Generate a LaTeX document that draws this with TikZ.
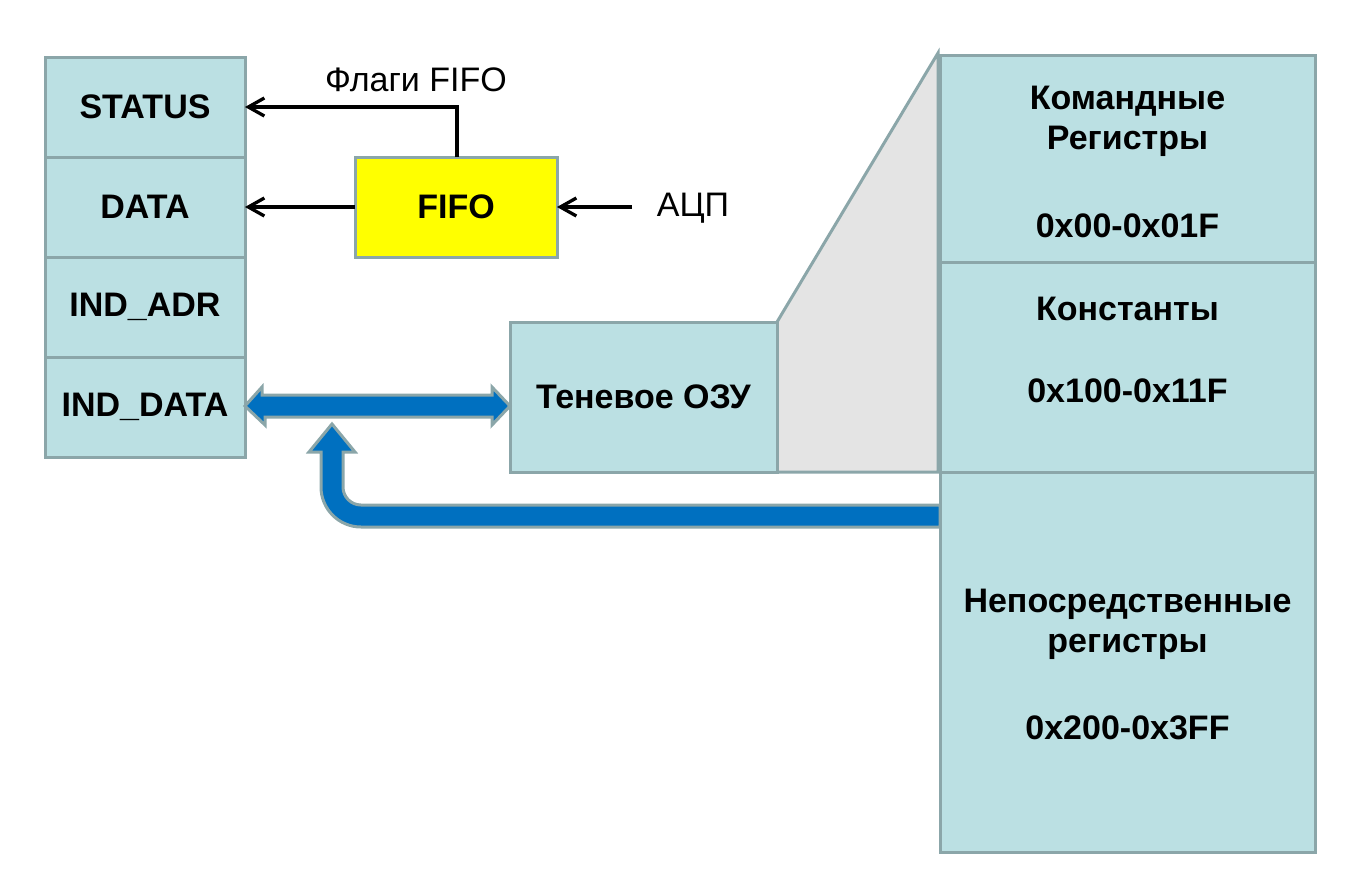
\documentclass[tikz,border=0pt]{standalone}
\usepackage{fontspec}
\setmainfont{Liberation Sans}
\usetikzlibrary{arrows.meta}
\definecolor{boxfill}{HTML}{BBE0E3}
\definecolor{boxline}{HTML}{8BA6A9}
\definecolor{bluearrow}{HTML}{0070C0}
\definecolor{greyfill}{HTML}{E4E4E4}
\definecolor{fifofill}{HTML}{FFFF00}
\tikzset{
  regbox/.style={draw=boxline, fill=boxfill, line width=1.5pt, inner sep=0pt, outer sep=0pt,
    font=\fontsize{17}{20}\selectfont\bfseries},
  fifobox/.style={regbox, fill=fifofill},
  boxtext/.style={font=\fontsize{17}{20}\selectfont\bfseries, inner sep=0pt, align=center},
  plaintext/.style={font=\fontsize{17}{20}\selectfont, inner sep=0pt},
  thinarrow/.style={line width=1.65pt, -{Straight Barb[length=8pt,width=9pt,line width=1.65pt]}},
  fatarrow/.style={draw=boxline, fill=bluearrow, line width=1.5pt, line join=miter},
}
\begin{document}
\begin{tikzpicture}[x=0.5pt,y=-0.5pt]
\useasboundingbox (0,0) rectangle (1362,885);
% grey projection
\filldraw[draw=boxline, fill=greyfill, line width=1.5pt] (777,322) -- (938,53) -- (938,472) -- (777,472) -- cycle;
% left register column
\node[regbox, minimum width=100pt, minimum height=50pt] (status) at (145,107) {STATUS};
\node[regbox, minimum width=100pt, minimum height=50pt] (data) at (145,207) {DATA};
\node[regbox, minimum width=100pt, minimum height=50pt] (indadr) at (145,307) {IND\_ADR};
\node[regbox, minimum width=100pt, minimum height=50pt] (inddata) at (145,407) {IND\_DATA};
% FIFO
\node[fifobox, minimum width=101pt, minimum height=50pt] (fifo) at (456,207) {FIFO};
\node[plaintext] (adc) at (693,208) {АЦП};
\node[plaintext] (flags) at (416,80) {Флаги FIFO};
\coordinate (flagcorner) at (457,107);
\coordinate (adcstart) at (632,207);
\draw[thinarrow] (fifo.north -| flagcorner) -- (flagcorner) -- (flagcorner -| status.east);
\draw[thinarrow] (fifo.west) -- (data.east);
\draw[thinarrow] (adcstart) -- (fifo.east);
% shadow RAM
\node[regbox, minimum width=133.5pt, minimum height=75pt] (shadow) at (643.5,397) {Теневое ОЗУ};
% right column
\node[regbox, minimum width=187.5pt, minimum height=103.5pt] (cmd) at (1127.5,158.5) {};
\node[regbox, minimum width=187.5pt, minimum height=105pt] (const) at (1127.5,367) {};
\node[regbox, minimum width=187.5pt, minimum height=190pt] (direct) at (1127.5,662) {};
\node[boxtext] (cmdtxt) at (1127.5,121) {Командные\\Регистры};
\node[boxtext] (cmdadr) at (1127.5,226) {0x00-0x01F};
\node[boxtext] (consttxt) at (1127.5,309) {Константы};
\node[boxtext] (constadr) at (1127.5,391) {0x100-0x11F};
\node[boxtext] (directtxt) at (1127.5,624) {Непосредственные\\регистры};
\node[boxtext] (directadr) at (1127.5,728) {0x200-0x3FF};
% double arrow between IND_DATA and shadow RAM
\filldraw[fatarrow] (inddata.east |- 0,406) -- ++(17,-19) -- ++(0,8) -- (492,395) -- (492,387) -- (shadow.west |- 0,406)
  -- (492,425) -- (492,417) -- (265,417) -- (265,425) -- cycle;
% bent arrow from direct registers
\filldraw[fatarrow] (direct.west |- 0,505) -- (361,505)
  .. controls (351.06,505) and (343,496.94) .. (343,487)
  -- (343,452) -- (355,452) -- (332,424) -- (309,452) -- (321,452) -- (321,487)
  .. controls (321,509.08) and (338.92,527) .. (361,527)
  -- (direct.west |- 0,527) -- cycle;
\end{tikzpicture}
\end{document}
